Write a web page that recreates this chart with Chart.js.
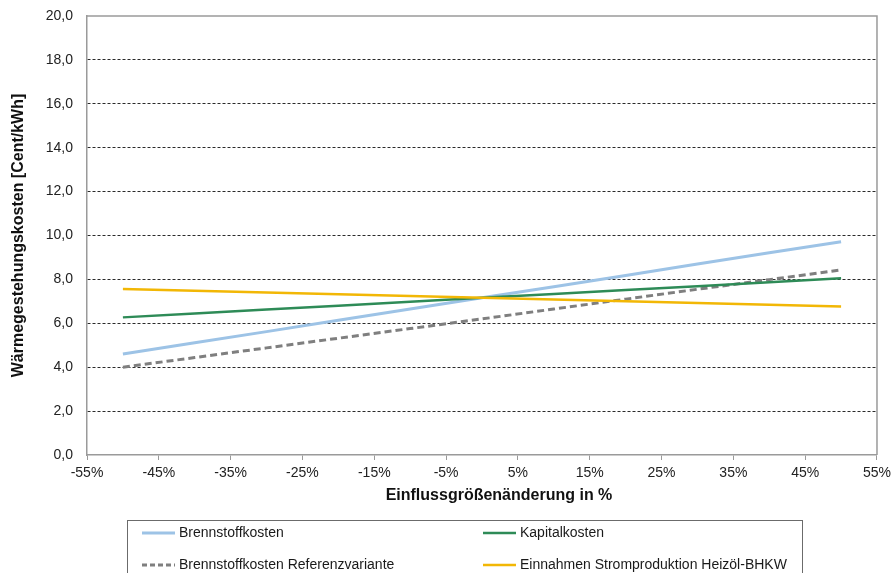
<!DOCTYPE html>
<html>
<head>
<meta charset="utf-8">
<script src="https://cdn.jsdelivr.net/npm/chart.js@4.4.1/dist/chart.umd.min.js"></script>
<style>
  html, body { margin: 0; padding: 0; background: #ffffff; }
  #wrap { width: 896px; height: 573px; position: relative; }
</style>
</head>
<body>
<div id="wrap"><canvas id="c" width="896" height="573"></canvas></div>
<script>
// Change of the influencing variable, in percent
const changes = [-50, -40, -30, -20, -10, 0, 10, 20, 30, 40, 50];

// Heat production cost in Cent/kWh for each sensitivity
const brennstoffkosten = [4.60, 5.11, 5.62, 6.14, 6.65, 7.16, 7.67, 8.18, 8.70, 9.21, 9.72];
const kapitalkosten = [6.27, 6.45, 6.63, 6.80, 6.98, 7.16, 7.34, 7.52, 7.69, 7.87, 8.05];
const brennstoffReferenz = [4.00, 4.44, 4.88, 5.32, 5.76, 6.20, 6.65, 7.10, 7.55, 7.99, 8.43];
const einnahmenStrom = [7.56, 7.48, 7.40, 7.32, 7.24, 7.16, 7.08, 7.00, 6.92, 6.84, 6.76];

const seriesNames = [
  'Brennstoffkosten',
  'Kapitalkosten',
  'Brennstoffkosten Referenzvariante',
  'Einnahmen Stromproduktion Heizöl-BHKW'
];

// Axis tick values
const xTicks = [-55, -45, -35, -25, -15, -5, 5, 15, 25, 35, 45, 55];
const yTicks = [0, 2, 4, 6, 8, 10, 12, 14, 16, 18, 20];

const xTitle = 'Einflussgrößenänderung in %';
const yTitle = 'Wärmegestehungskosten [Cent/kWh]';

const FONT = '"Liberation Sans", Arial, sans-serif';

function toPoints(values) {
  return changes.map((x, i) => ({ x: x, y: values[i] }));
}

// Grey frame on top and right of the plot area
const frame = {
  id: 'frame',
  afterDatasetsDraw(chart) {
    const { ctx, chartArea: a } = chart;
    ctx.save();
    ctx.strokeStyle = '#9a9a9a';
    ctx.lineWidth = 1.5;
    ctx.beginPath();
    ctx.moveTo(a.left, a.top);
    ctx.lineTo(a.right, a.top);
    ctx.lineTo(a.right, a.bottom);
    ctx.stroke();
    ctx.restore();
  }
};

// X axis title, set slightly right of the plot centre
const xAxisTitle = {
  id: 'xAxisTitle',
  afterDraw(chart) {
    const { ctx, chartArea: a } = chart;
    ctx.save();
    ctx.font = 'bold 16px ' + FONT;
    ctx.fillStyle = '#111111';
    ctx.textAlign = 'center';
    ctx.textBaseline = 'middle';
    ctx.fillText(xTitle, (a.left + a.right) / 2 + 17, 496);
    ctx.restore();
  }
};

// Boxed two-column legend below the x axis title
const boxLegend = {
  id: 'boxLegend',
  afterDraw(chart) {
    const ctx = chart.ctx;
    const box = { left: 127, top: 520, right: 802, bottom: 620 };
    const cols = [142, 483];
    const rows = [533, 565];
    const sampleLen = 33;
    ctx.save();
    ctx.strokeStyle = '#6b6b6b';
    ctx.lineWidth = 1;
    ctx.strokeRect(box.left + 0.5, box.top + 0.5, box.right - box.left, box.bottom - box.top);
    ctx.font = '14px ' + FONT;
    ctx.textBaseline = 'middle';
    ctx.textAlign = 'left';
    chart.data.datasets.forEach((ds, k) => {
      const x = cols[k % 2];
      const y = rows[Math.floor(k / 2)];
      ctx.save();
      ctx.strokeStyle = ds.borderColor;
      ctx.lineWidth = ds.borderWidth;
      ctx.setLineDash(ds.borderDash ? [5, 3] : []);
      ctx.beginPath();
      ctx.moveTo(x, y);
      ctx.lineTo(x + sampleLen, y);
      ctx.stroke();
      ctx.restore();
      ctx.fillStyle = '#1a1a1a';
      ctx.fillText(ds.label, x + sampleLen + 4, y);
    });
    ctx.restore();
  }
};

new Chart(document.getElementById('c'), {
  type: 'line',
  data: {
    datasets: [
      {
        label: seriesNames[0],
        data: toPoints(brennstoffkosten),
        borderColor: '#9dc3e6',
        borderWidth: 3,
        pointRadius: 0,
        order: 3
      },
      {
        label: seriesNames[1],
        data: toPoints(kapitalkosten),
        borderColor: '#2e8b57',
        borderWidth: 2.5,
        pointRadius: 0,
        order: 2
      },
      {
        label: seriesNames[2],
        data: toPoints(brennstoffReferenz),
        borderColor: '#7f7f7f',
        borderWidth: 3,
        borderDash: [7, 4],
        pointRadius: 0,
        order: 4
      },
      {
        label: seriesNames[3],
        data: toPoints(einnahmenStrom),
        borderColor: '#f2b705',
        borderWidth: 2.5,
        pointRadius: 0,
        order: 1
      }
    ]
  },
  options: {
    responsive: false,
    animation: false,
    devicePixelRatio: 1,
    layout: { padding: { left: 0, top: 16, right: 18, bottom: 68 } },
    plugins: {
      legend: { display: false },
      tooltip: { enabled: false }
    },
    scales: {
      x: {
        type: 'linear',
        min: -55,
        max: 55,
        afterBuildTicks: s => { s.ticks = xTicks.map(v => ({ value: v })); },
        afterFit: s => { s.height = 50; },
        ticks: {
          callback: v => v + '%',
          font: { family: FONT, size: 14 },
          color: '#222222',
          padding: 5,
          maxRotation: 0,
          autoSkip: false
        },
        grid: {
          drawOnChartArea: false,
          drawTicks: true,
          tickLength: 5,
          color: '#9a9a9a'
        },
        border: { color: '#9a9a9a', width: 1.5 },
        title: { display: false }
      },
      y: {
        min: 0,
        max: 20,
        afterBuildTicks: s => { s.ticks = yTicks.map(v => ({ value: v })); },
        afterFit: s => { s.width = 87; s.paddingTop = 0; s.paddingBottom = 0; },
        ticks: {
          callback: v => v.toFixed(1).replace('.', ','),
          font: { family: FONT, size: 14 },
          color: '#222222',
          padding: 14
        },
        grid: {
          drawTicks: false,
          color: ctx => (ctx.tick && (ctx.tick.value === 0 || ctx.tick.value === 20)) ? 'rgba(0,0,0,0)' : '#2a2a2a',
          lineWidth: 1
        },
        border: { color: '#9a9a9a', width: 1.5, dash: [3, 2] },
        title: {
          display: true,
          text: yTitle,
          font: { family: FONT, size: 16, weight: 'bold' },
          color: '#111111',
          padding: { top: 9, bottom: 0 }
        }
      }
    }
  },
  plugins: [frame, xAxisTitle, boxLegend]
});
</script>
</body>
</html>
